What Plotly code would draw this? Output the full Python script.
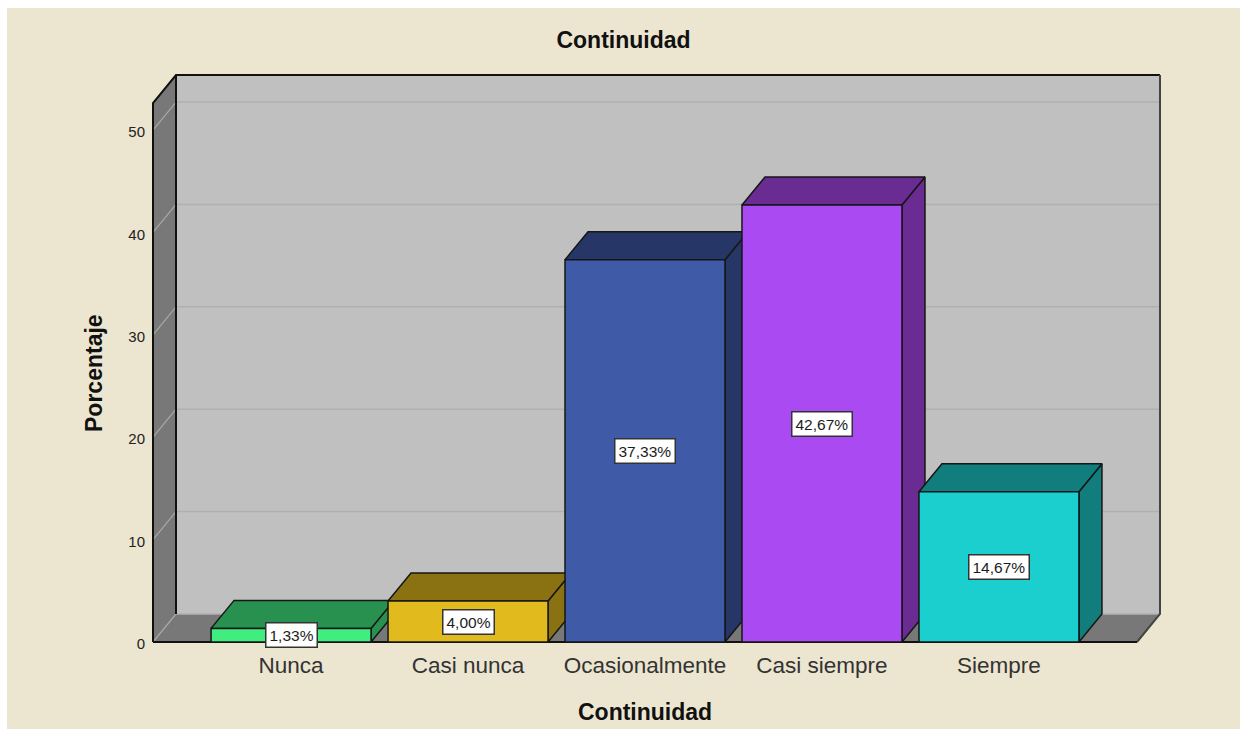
import plotly.graph_objects as go

categories = ["Nunca", "Casi nunca", "Ocasionalmente", "Casi siempre", "Siempre"]
values = [1.33, 4.00, 37.33, 42.67, 14.67]
y_ticks = [0, 10, 20, 30, 40, 50]
front_colors = ["#40EE80", "#E1BA1D", "#3F5BA8", "#AA4AF2", "#1BCFCF"]
depth_colors = ["#289150", "#8A7212", "#263767", "#6A2B93", "#117D7D"]

W, H = 1240, 729
PAD = 2
PX_L, PX_R, PX_T, PX_B = 153 - PAD, 1160 + PAD, 75 - PAD, 642 + PAD
FRONT_X = [-0.78, 4.78]
FRONT_Y_TOP = 52.64
UX = (FRONT_X[1] - FRONT_X[0]) / (1137 - 153)
UY = FRONT_Y_TOP / (642 - 103)
DX = 23 * UX
DY = 28 * UY
X_RANGE = [FRONT_X[0] - PAD * UX, FRONT_X[1] + DX + PAD * UX]
Y_RANGE = [-PAD * UY, FRONT_Y_TOP + DY + PAD * UY]
HALF = 0.452
EDGE = "#161616"
FONT = "Liberation Sans"

fig = go.Figure()


def poly(xs, ys, fill, line=EDGE, width=1.5):
    fig.add_trace(go.Scatter(
        x=xs + xs[:1], y=ys + ys[:1], mode="lines", fill="toself", fillcolor=fill,
        line=dict(color=line, width=width), hoverinfo="skip", showlegend=False))


def seg(xs, ys, color, width):
    fig.add_trace(go.Scatter(
        x=xs, y=ys, mode="lines", line=dict(color=color, width=width),
        hoverinfo="skip", showlegend=False))


def paper_x(px):
    return (px - PX_L) / (PX_R - PX_L)


def paper_y(py):
    return (PX_B - py) / (PX_B - PX_T)


xl, xr = FRONT_X
yt = FRONT_Y_TOP
# back wall, floor, left wall
poly([xl + DX, xr + DX, xr + DX, xl + DX], [DY, DY, yt + DY, yt + DY], "#C0C0C0", "#C0C0C0", 0)
poly([xl, xl + DX, xr + DX, xr], [0, DY, DY, 0], "#787878", "#787878", 0)
poly([xl, xl + DX, xl + DX, xl], [0, DY, yt + DY, yt], "#787878", "#787878", 0)

# grid lines on the back and left walls
for t in y_ticks:
    seg([xl + DX, xr + DX], [t + DY, t + DY], "#B0B0B0", 1.5)
    seg([xl, xl + DX], [t, t + DY], "#A8A8A8", 1.2)

# frame
seg([xl, xl, xl + DX, xr + DX], [0, yt, yt + DY, yt + DY], "#111111", 2)
seg([xl + DX, xl + DX], [DY, yt + DY], "#111111", 2)
seg([xr + DX, xr + DX, xr], [yt + DY, DY, 0], "#444444", 2)
seg([xl, xr], [0, 0], "#111111", 2)

# bars
for i, v in enumerate(values):
    a, b = i - HALF, i + HALF
    poly([b, b + DX, b + DX, b], [0, DY, v + DY, v], depth_colors[i])
    poly([a, a + DX, b + DX, b], [v, v + DY, v + DY, v], depth_colors[i])
    poly([a, b, b, a], [0, 0, v, v], front_colors[i])
    fig.add_annotation(
        x=i, y=v / 2, xref="x", yref="y",
        text=f"{v:.2f}%".replace(".", ","), showarrow=False,
        font=dict(family=FONT, size=15.5, color="#1C1C1C"),
        bgcolor="#FFFFFF", bordercolor="#333333", borderwidth=1.5, borderpad=3)

# axis titles
fig.add_annotation(xref="paper", yref="paper", x=paper_x(645), y=paper_y(712), showarrow=False,
                   xanchor="center", yanchor="middle",
                   text="<b>Continuidad</b>", font=dict(family=FONT, size=23, color="#111111"))
fig.add_annotation(xref="paper", yref="paper", x=paper_x(94), y=paper_y(373), showarrow=False,
                   xanchor="center", yanchor="middle",
                   textangle=-90, text="<b>Porcentaje</b>",
                   font=dict(family=FONT, size=23, color="#111111"))

# background panel
fig.add_shape(type="rect", xref="paper", yref="paper", layer="below",
              x0=paper_x(7), x1=paper_x(W), y0=paper_y(H), y1=paper_y(8),
              fillcolor="#ECE5D0", line=dict(width=0))

fig.update_layout(
    width=W, height=H, autosize=False,
    paper_bgcolor="#FFFFFF", plot_bgcolor="rgba(0,0,0,0)",
    margin=dict(l=PX_L, r=W - PX_R, t=PX_T, b=H - PX_B, pad=0),
    showlegend=False,
    title=dict(text="<b>Continuidad</b>", x=623.5 / W, xanchor="center",
               y=1 - 40 / H, yanchor="middle",
               font=dict(family=FONT, size=23, color="#111111")),
    xaxis=dict(range=X_RANGE, tickmode="array", tickvals=list(range(len(categories))),
               ticktext=categories, showgrid=False, zeroline=False, showline=False,
               ticks="outside", ticklen=1, tickcolor="rgba(0,0,0,0)", automargin=False,
               tickfont=dict(family=FONT, size=22.5, color="#333333")),
    yaxis=dict(range=Y_RANGE, tickmode="array", tickvals=y_ticks,
               showgrid=False, zeroline=False, showline=False,
               ticks="outside", ticklen=2, tickcolor="rgba(0,0,0,0)", automargin=False,
               ticklabelshift=2,
               tickfont=dict(family=FONT, size=15, color="#222222")),
)

fig.write_html("out.html", config={"displayModeBar": False},
               post_script="document.body.style.margin='0';document.body.style.overflow='hidden';")
